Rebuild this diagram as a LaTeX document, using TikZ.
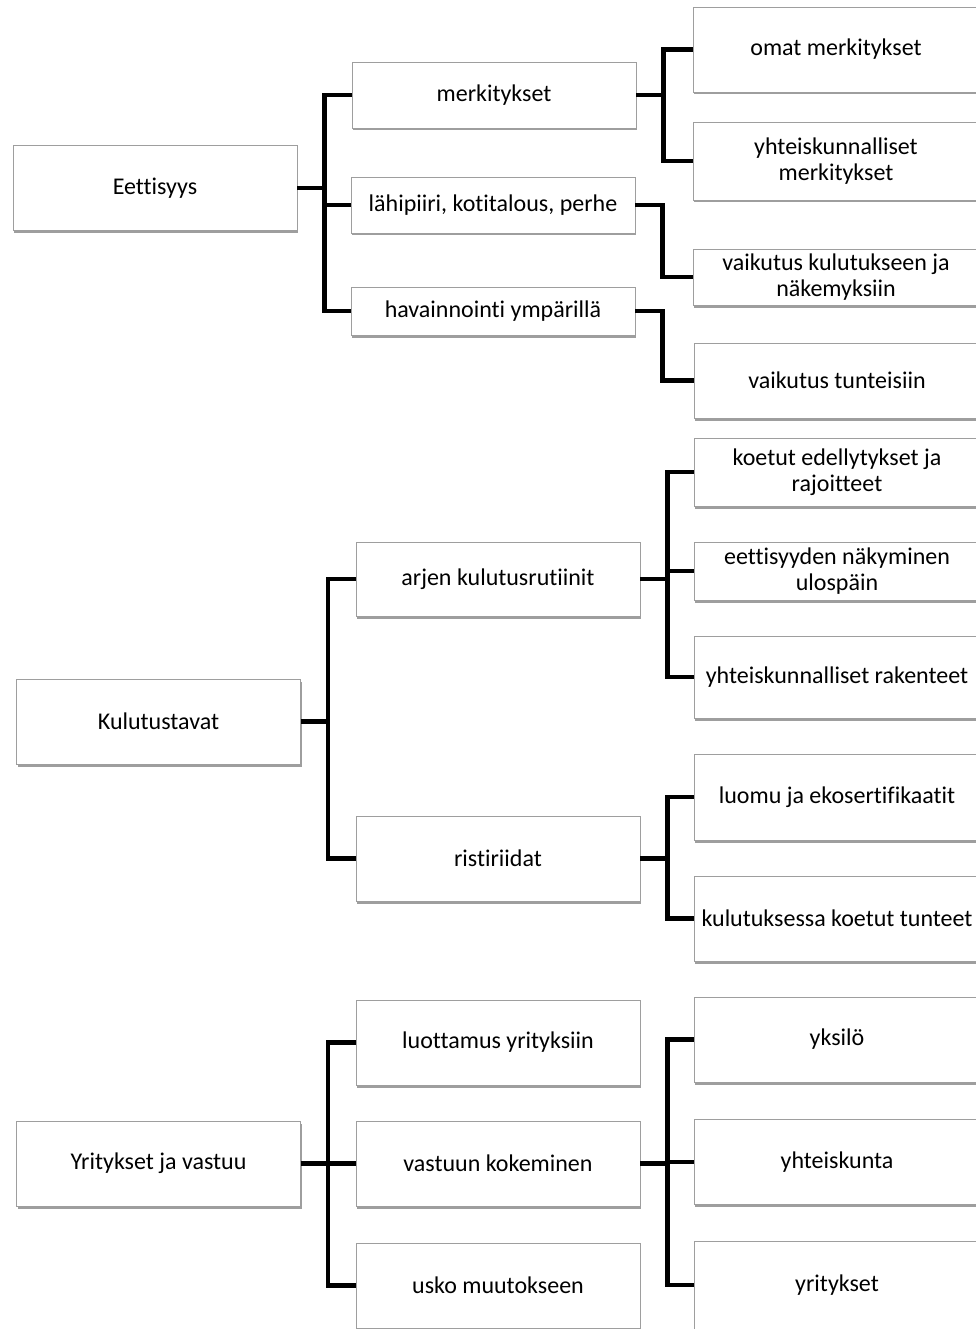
\documentclass[tikz,border=0pt]{standalone}
\usepackage{fontspec}
\setmainfont[Ligatures=NoCommon]{Carlito}
\usetikzlibrary{calc, positioning, shadows}
\def\busgap{27}
\tikzstyle{box}=[draw=black!38, line width=0.8pt, fill=white, minimum width=284pt, minimum height=85pt, inner sep=2pt, align=center, font=\fontsize{24}{26}\selectfont, drop shadow={shadow xshift=1.3pt, shadow yshift=-2.5pt, opacity=0.38, fill=black}]
\tikzstyle{main box}=[box]
\tikzstyle{sub box}=[box]
\tikzstyle{leaf box}=[box, minimum width=286pt]
\tikzstyle{link}=[line width=4.5pt, black]

\begin{document}
\begin{tikzpicture}[x=1pt, y=-1pt]
\useasboundingbox (0,0) rectangle (976,1329);

			% Draw the main topics
			\node[main box] (eet) at (155,188) {Eettisyys};
			\node[main box] (kul) at (158.5,721.5) {Kulutustavat};
			\node[main box] (yrit) at (158.5,1163.5) {Yritykset ja vastuu};

			% Draw the subtopics
			\node[sub box, minimum height=66pt] (merk) at (494,95) {merkitykset};
			\node[sub box, minimum height=56pt] (lahi) at (493,205) {lähipiiri, kotitalous, perhe};
			\node[sub box, minimum height=48pt] (hava) at (493,311) {havainnointi ympärillä};
			\node[sub box, minimum height=74pt] (arjen) at (498,579) {arjen kulutusrutiinit};
			\node[sub box] (rist) at (498,858.5) {ristiriidat};
			\node[sub box] (luot) at (498,1042.5) {luottamus yrityksiin};
			\node[sub box] (vast) at (498,1163.5) {vastuun kokeminen};
			\node[sub box] (usko) at (498,1285.5) {usko muutokseen};

			% Draw the leaves
			\node[leaf box] (omat) at (836,49.5) {omat merkitykset};
			\node[leaf box, minimum height=78pt] (yhtm) at (836,161) {yhteiskunnalliset\\merkitykset};
			\node[leaf box, minimum height=56pt] (vkul) at (836,277) {vaikutus kulutukseen ja\\näkemyksiin};
			\node[leaf box, minimum height=75pt] (vtun) at (837,380.5) {vaikutus tunteisiin};
			\node[leaf box, minimum height=68pt] (koet) at (837,472) {koetut edellytykset ja\\rajoitteet};
			\node[leaf box, minimum height=58pt] (nakym) at (837,571) {eettisyyden näkyminen\\ulospäin};
			\node[leaf box, minimum height=82pt] (rake) at (837,677) {yhteiskunnalliset rakenteet};
			\node[leaf box, minimum height=86pt] (luomu) at (837,797) {luomu ja ekosertifikaatit};
			\node[leaf box] (tunt) at (837,918.5) {kulutuksessa koetut tunteet};
			\node[leaf box] (yksi) at (837,1039.5) {yksilö};
			\node[leaf box] (ykun) at (837,1162) {yhteiskunta};
			\node[leaf box, minimum height=88pt] (yrks) at (837,1285) {yritykset};

			% Connect every topic with its subtopics
			\foreach \source/\dest in {eet/merk, eet/lahi, eet/hava, merk/omat, merk/yhtm, lahi/vkul, hava/vtun,
			  kul/arjen, kul/rist, arjen/koet, arjen/nakym, arjen/rake, rist/luomu, rist/tunt,
			  yrit/luot, yrit/vast, yrit/usko, vast/yksi, vast/ykun, vast/yrks}
			\draw[link] (\source.east) -- ++(\busgap,0) |- (\dest.west);
\end{tikzpicture}
\end{document}
